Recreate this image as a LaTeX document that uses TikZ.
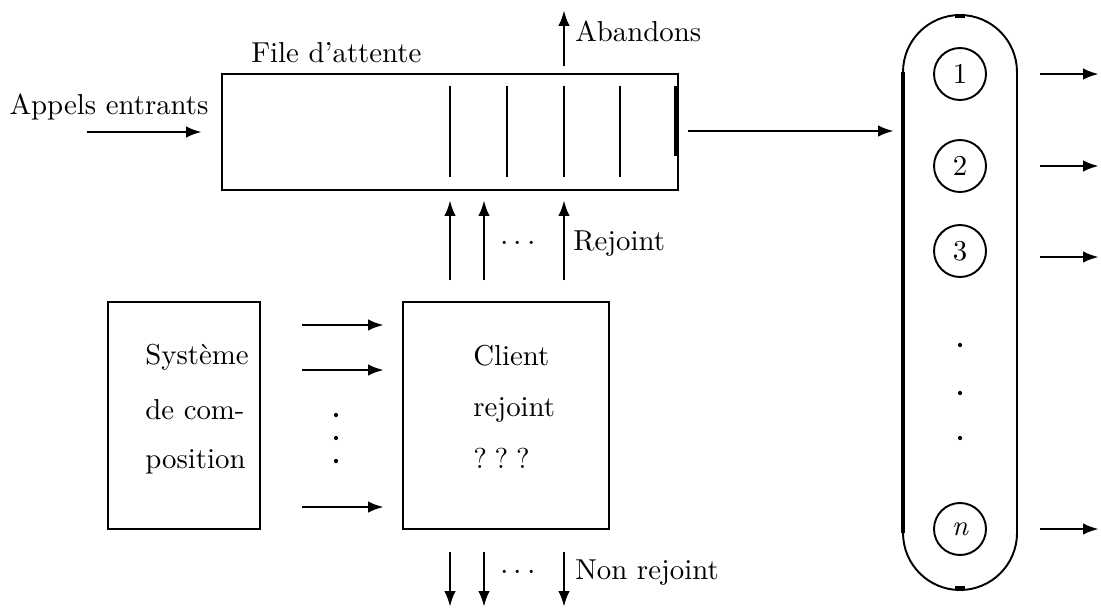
\documentclass[tikz,border=0pt]{standalone}
\usepackage{fontspec}
\newfontfamily\lmten{lmroman10-regular.otf}[Ligatures=TeX]
\newfontfamily\lmtenit{lmroman10-italic.otf}
\usetikzlibrary{arrows.meta}
\begin{document}
\begin{tikzpicture}[x=0.02cm,y=-0.02cm,
  thick line/.style={line width=1.6pt},
  thin line/.style={line width=1.1pt},
  arr/.style={line width=1.6pt,-{Latex[length=9pt,width=6.5pt]}},
  lbl/.style={inner sep=0pt,font=\lmten\fontsize{16.4}{19}\selectfont},
  box/.style={draw,line width=1.6pt,rectangle,inner sep=0pt},
  srv/.style={draw,line width=1.1pt,circle,minimum size=1.04cm,inner sep=0pt,font=\lmten\fontsize{16.4}{19}\selectfont},
  ldot/.style={circle,fill,inner sep=0pt,minimum size=2.4pt}]
\useasboundingbox (0,0) rectangle (1101,609);
% queue
\node[box,minimum width=9.12cm,minimum height=2.32cm] (queue) at (450,132) {};
\foreach \x/\n in {450/a,507/b,564/c,620/d}
  \draw[thick line] (\x,86) coordinate (q\n t) -- (\x,177) coordinate (q\n b);
\draw[line width=2pt] (676,86) coordinate (qr1) -- (676,156) coordinate (qr2);
\node[lbl,anchor=west] (fileatt) at (251,53) {File d’attente};
% abandons
\coordinate (abs) at (564,66);
\coordinate (abe) at (564,10);
\draw[arr] (abs) -- (abe);
\node[lbl,anchor=west] (aband) at (575,31) {Abandons};
% incoming
\node[lbl] (appels) at (109,107) {Appels entrants};
\coordinate (ins) at (87,132);
\coordinate (ine) at (202,132);
\draw[arr] (ins) -- (ine);
% to pool
\coordinate (tps) at (688,131);
\coordinate (tpe) at (894,131);
\draw[arr] (tps) -- (tpe);
% pool
\draw[line width=2.4pt] (903,72) coordinate (pl1) -- (903,533) coordinate (pl2);
\draw[thick line] (1017,72) coordinate (pr1) -- (1017,533) coordinate (pr2);
\draw[thin line] (pl1) arc[start angle=180,end angle=0,radius=1.14cm];
\draw[thin line] (pr2) arc[start angle=0,end angle=-180,radius=1.14cm];
\draw[line width=2.2pt] (955,16) coordinate (pt1) -- (965,16) coordinate (pt2);
\draw[line width=2.2pt] (955,588) coordinate (pb1) -- (965,588) coordinate (pb2);
\node[srv] (s1) at (960,74) {1};
\node[srv] (s2) at (960,166) {2};
\node[srv] (s3) at (960,251) {3};
\node[srv] (sn) at (960,529) {\lmtenit n};
\foreach \y/\n in {345/1,393/2,438/3} \node[ldot] (pd\n) at (960,\y) {};
\foreach \y/\n in {74/1,166/2,257/3,529/n} {
  \coordinate (os\n) at (1040,\y);
  \coordinate (oe\n) at (1099,\y);
  \draw[arr] (os\n) -- (oe\n);
}
% systeme box
\node[box,minimum width=3.04cm,minimum height=4.54cm] (sys) at (184,415.5) {};
\node[lbl,anchor=base west] (sy1) at (145,364) {Système};
\node[lbl,anchor=base west] (sy2) at (145,419) {de com-};
\node[lbl,anchor=base west] (sy3) at (145,468) {position};
% client box
\node[box,minimum width=4.12cm,minimum height=4.54cm] (cli) at (506,415.5) {};
\node[lbl,anchor=base west] (cl1) at (473,365) {Client};
\node[lbl,anchor=base west] (cl2) at (473,416) {rejoint};
\node[lbl,anchor=base west] (cl3) at (473,468) {?\hspace{0.27em}?\hspace{0.27em}?};
% arrows between boxes
\foreach \y/\n in {325/1,370/2,507/3} {
  \coordinate (ms\n) at (302,\y);
  \coordinate (me\n) at (384,\y);
  \draw[arr] (ms\n) -- (me\n);
}
\foreach \y/\n in {415/1,438/2,461/3} \node[ldot] (md\n) at (336,\y) {};
% rejoint arrows
\foreach \x/\n in {450/1,484/2,564/3} {
  \coordinate (rs\n) at (\x,280);
  \coordinate (re\n) at (\x,200);
  \draw[arr] (rs\n) -- (re\n);
  \coordinate (ns\n) at (\x,552);
  \coordinate (ne\n) at (\x,607);
  \draw[arr] (ns\n) -- (ne\n);
}
\node[lbl] (rdots) at (518,244) {$\cdots$};
\node[lbl,anchor=west] (rej) at (573,244) {Rejoint};
\node[lbl] (ndots) at (518,573) {$\cdots$};
\node[lbl,anchor=west] (nrej) at (575,573) {Non rejoint};
\end{tikzpicture}
\end{document}
